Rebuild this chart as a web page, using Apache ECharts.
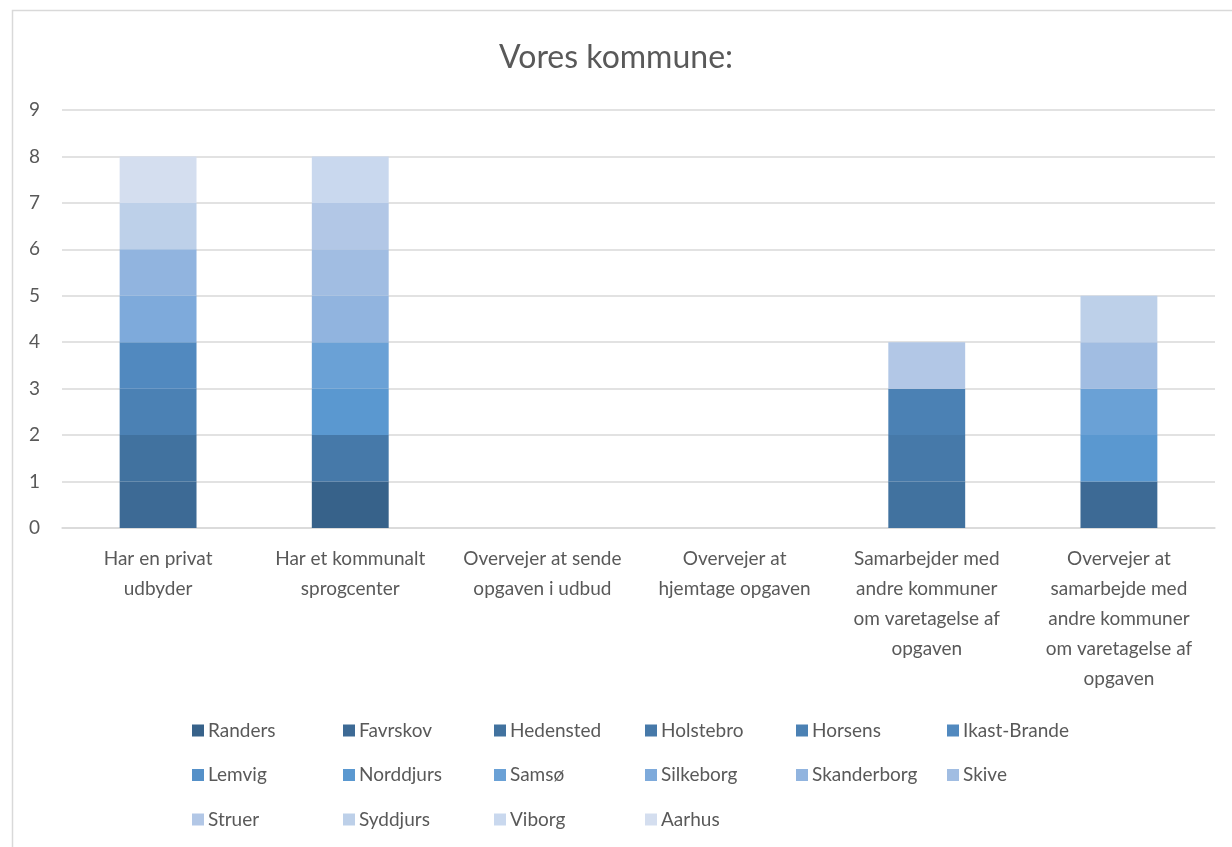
<!DOCTYPE html>
<html>
<head>
<meta charset="utf-8">
<script src="https://cdn.jsdelivr.net/npm/echarts@6/dist/echarts.min.js"></script>
<style>
  html, body { margin: 0; padding: 0; background: #fff; }
  #chart { width: 1232px; height: 847px; }
</style>
</head>
<body>
<div id="chart"></div>
<script>
// Vores kommune — stablet søjlediagram, én serie pr. kommune
const kategorier = [
  'Har en privat\nudbyder',
  'Har et kommunalt\nsprogcenter',
  'Overvejer at sende\nopgaven i udbud',
  'Overvejer at\nhjemtage opgaven',
  'Samarbejder med\nandre kommuner\nom varetagelse af\nopgaven',
  'Overvejer at\nsamarbejde med\nandre kommuner\nom varetagelse af\nopgaven'
]

const kommuner = [
  'Randers', 'Favrskov', 'Hedensted', 'Holstebro', 'Horsens', 'Ikast-Brande',
  'Lemvig', 'Norddjurs', 'Samsø', 'Silkeborg', 'Skanderborg', 'Skive',
  'Struer', 'Syddjurs', 'Viborg', 'Aarhus'
]

// én række pr. kommune, én værdi pr. kategori
const svar = [
  [0, 1, 0, 0, 0, 0], // Randers
  [1, 0, 0, 0, 0, 1], // Favrskov
  [1, 0, 0, 0, 1, 0], // Hedensted
  [0, 1, 0, 0, 1, 0], // Holstebro
  [1, 0, 0, 0, 1, 0], // Horsens
  [1, 0, 0, 0, 0, 0], // Ikast-Brande
  [0, 0, 0, 0, 0, 0], // Lemvig
  [0, 1, 0, 0, 0, 1], // Norddjurs
  [0, 1, 0, 0, 0, 1], // Samsø
  [1, 0, 0, 0, 0, 0], // Silkeborg
  [1, 1, 0, 0, 0, 0], // Skanderborg
  [0, 1, 0, 0, 0, 1], // Skive
  [0, 1, 0, 0, 1, 0], // Struer
  [1, 0, 0, 0, 0, 1], // Syddjurs
  [0, 1, 0, 0, 0, 0], // Viborg
  [1, 0, 0, 0, 0, 0]  // Aarhus
]

const yTicks = [0, 1, 2, 3, 4, 5, 6, 7, 8, 9]

const FARVER = [
  '#37628A', '#3D6A95', '#41729F', '#4679A9', '#4B81B4', '#5189BF',
  '#5590C8', '#5A98D0', '#6AA1D6', '#7EAADB', '#91B4DF', '#A1BDE2',
  '#B2C7E6', '#BDD0E9', '#C9D8EE', '#D4DEEF'
]

const FONT = 'Lato'
const TXT = '#595959'

const chart = echarts.init(document.getElementById('chart'))

// Excel lægger legenden i faste kolonner — én legend pr. kommune
const legender = kommuner.map((navn, i) => ({
  data: [navn],
  left: 187 + (i % 6) * 151,
  top: 716 + Math.floor(i / 6) * 44.5,
  itemWidth: 12,
  itemHeight: 12,
  itemGap: 0,
  icon: 'rect',
  textStyle: { color: TXT, fontFamily: FONT, fontSize: 19, padding: [0, 0, 0, -1] },
  selectedMode: false
}))

chart.setOption({
  animation: false,
  color: FARVER,
  title: {
    text: 'Vores kommune:',
    left: 'center',
    top: 37,
    textStyle: { color: TXT, fontFamily: FONT, fontSize: 32, fontWeight: 'normal' }
  },
  legend: legender,
  grid: { left: 62, right: 17, top: 110, bottom: 319, containLabel: false },
  xAxis: {
    type: 'category',
    data: kategorier,
    axisLine: { lineStyle: { color: '#D9D9D9', width: 1.5 } },
    axisTick: { show: false },
    axisLabel: {
      color: TXT, fontFamily: FONT, fontSize: 19, lineHeight: 30,
      margin: 16, interval: 0, align: 'center'
    }
  },
  yAxis: {
    type: 'value',
    min: yTicks[0],
    max: yTicks[yTicks.length - 1],
    interval: 1,
    axisLine: { show: false },
    axisTick: { show: false },
    axisLabel: { color: TXT, fontFamily: FONT, fontSize: 19, margin: 22 },
    splitLine: { lineStyle: { color: '#D9D9D9', width: 1.5 } }
  },
  graphic: [{
    type: 'rect',
    shape: { x: 12.5, y: 10.5, width: 1300, height: 900 },
    style: { fill: 'none', stroke: '#D9D9D9', lineWidth: 1.5 },
    silent: true
  }],
  series: kommuner.map((navn, i) => ({
    name: navn,
    type: 'bar',
    stack: 'total',
    barWidth: '40%',
    data: svar[i]
  }))
})
</script>
</body>
</html>
